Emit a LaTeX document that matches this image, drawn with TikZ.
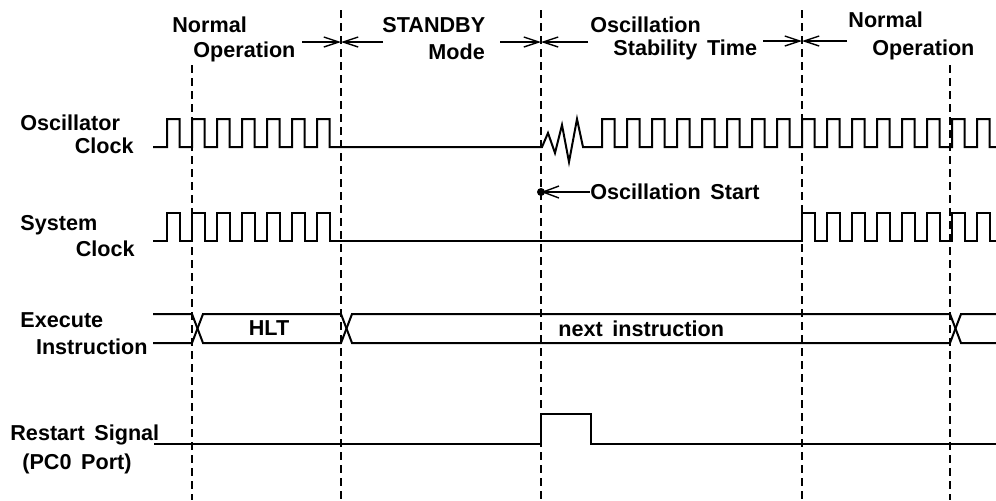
\documentclass[tikz,border=0pt]{standalone}
\usepackage{fontspec}
\setmainfont[WordSpace=1.6]{Liberation Sans}
\usetikzlibrary{arrows.meta}

\begin{document}
\begin{tikzpicture}[x=0.5pt,y=-0.5pt,
        sig/.style={line width=1pt},
        guide/.style={line width=0.6pt,dash pattern=on 4pt off 2.5pt},
        lbl/.style={font=\bfseries\fontsize{10.8}{11}\selectfont,
                    inner sep=0pt,text height=7.7pt,text depth=0pt},
        span/.style={-{Straight Barb[length=7.5pt,width=5pt]},line width=0.7pt}]
    \useasboundingbox (0,0) rectangle (996,500);
    % phase boundaries
    \foreach \x/\top in {192/65, 341/10, 541/10, 802/10, 950/65}
        \draw[guide] (\x,\top) -- (\x,500);
    % signal names
    \node[lbl,anchor=west] (osc1) at (20,123) {Oscillator};
    \node[lbl,anchor=east] (osc2) at (134,146) {Clock};
    \node[lbl,anchor=west] (sys1) at (20,223) {System};
    \node[lbl,anchor=east] (sys2) at (135,249) {Clock};
    \node[lbl,anchor=west] (exe1) at (20,320) {Execute};
    \node[lbl,anchor=east] (exe2) at (148,347) {Instruction};
    \node[lbl,anchor=west] (rst1) at (10,433) {Restart Signal};
    \node[lbl,anchor=west] (rst2) at (22,462) {(PC0 Port)};
    % phase names
    \node[lbl,anchor=west] (nor1) at (172,25) {Normal};
    \node[lbl,anchor=west] (nor2) at (193,50) {Operation};
    \node[lbl,anchor=west] (stb1) at (382,25) {STANDBY};
    \node[lbl,anchor=west] (stb2) at (428,52) {Mode};
    \node[lbl,anchor=west] (ost1) at (590,25) {Oscillation};
    \node[lbl,anchor=west] (ost2) at (613,48) {Stability Time};
    \node[lbl,anchor=west] (nrm1) at (848,20) {Normal};
    \node[lbl,anchor=west] (nrm2) at (872,48) {Operation};
    % phase arrows
    \coordinate (b1) at (341,42);
    \coordinate (b2) at (541,42);
    \coordinate (b3) at (802,41);
    \draw[span] (302,42) coordinate (p1) -- (b1);
    \draw[span] (383,42) coordinate (p2) -- (b1);
    \draw[span] (500,42) coordinate (p3) -- (b2);
    \draw[span] (588,42) coordinate (p4) -- (b2);
    \draw[span] (763,41) coordinate (p5) -- (b3);
    \draw[span] (847,41) coordinate (p6) -- (b3);
    % oscillator clock
    \draw[sig] (153,147) -- (167,147)
        \foreach \i in {1,...,7}{ -- ++(0,-28) -- ++(12.5,0) -- ++(0,28) -- ++(12.5,0)}
        -- (542,147) -- (548,133) -- (555,153) -- (562,125) -- (569,162)
        -- (577,119) -- (583,147) -- (602,147)
        \foreach \i in {1,...,15}{ -- ++(0,-28) -- ++(12.5,0) -- ++(0,28) -- ++(12.5,0)}
        -- ++(0,-28) -- ++(12.5,0) -- ++(0,28) -- (996,147);
    % oscillation start
    \coordinate (start) at (541,192);
    \fill (start) circle (2pt);
    \node[lbl,anchor=west] (ostart) at (590,192) {Oscillation Start};
    \draw[-{Straight Barb[length=8pt,width=6pt]},line width=0.7pt] (ostart.west) -- (start);
    % system clock
    \draw[sig] (153,241) -- (167,241)
        \foreach \i in {1,...,7}{ -- ++(0,-28) -- ++(12.5,0) -- ++(0,28) -- ++(12.5,0)}
        -- (802,241)
        \foreach \i in {1,...,7}{ -- ++(0,-28) -- ++(12.5,0) -- ++(0,28) -- ++(12.5,0)}
        -- ++(0,-28) -- ++(12.5,0) -- ++(0,28) -- (996,241);
    % execute instruction
    \draw[sig] (153,314) -- (192,314) -- (203,343) -- (341,343) -- (352,314)
        -- (950,314) -- (961,343) -- (996,343);
    \draw[sig] (153,343) -- (192,343) -- (203,314) -- (341,314) -- (352,343)
        -- (950,343) -- (961,314) -- (996,314);
    \node[lbl] (hlt) at (269,328) {HLT};
    \node[lbl,anchor=west] (next) at (558,329) {next instruction};
    % restart signal
    \draw[sig] (154,444) -- (541,444) -- (541,414) -- (591,414) -- (591,444) -- (996,444);
\end{tikzpicture}
\end{document}
